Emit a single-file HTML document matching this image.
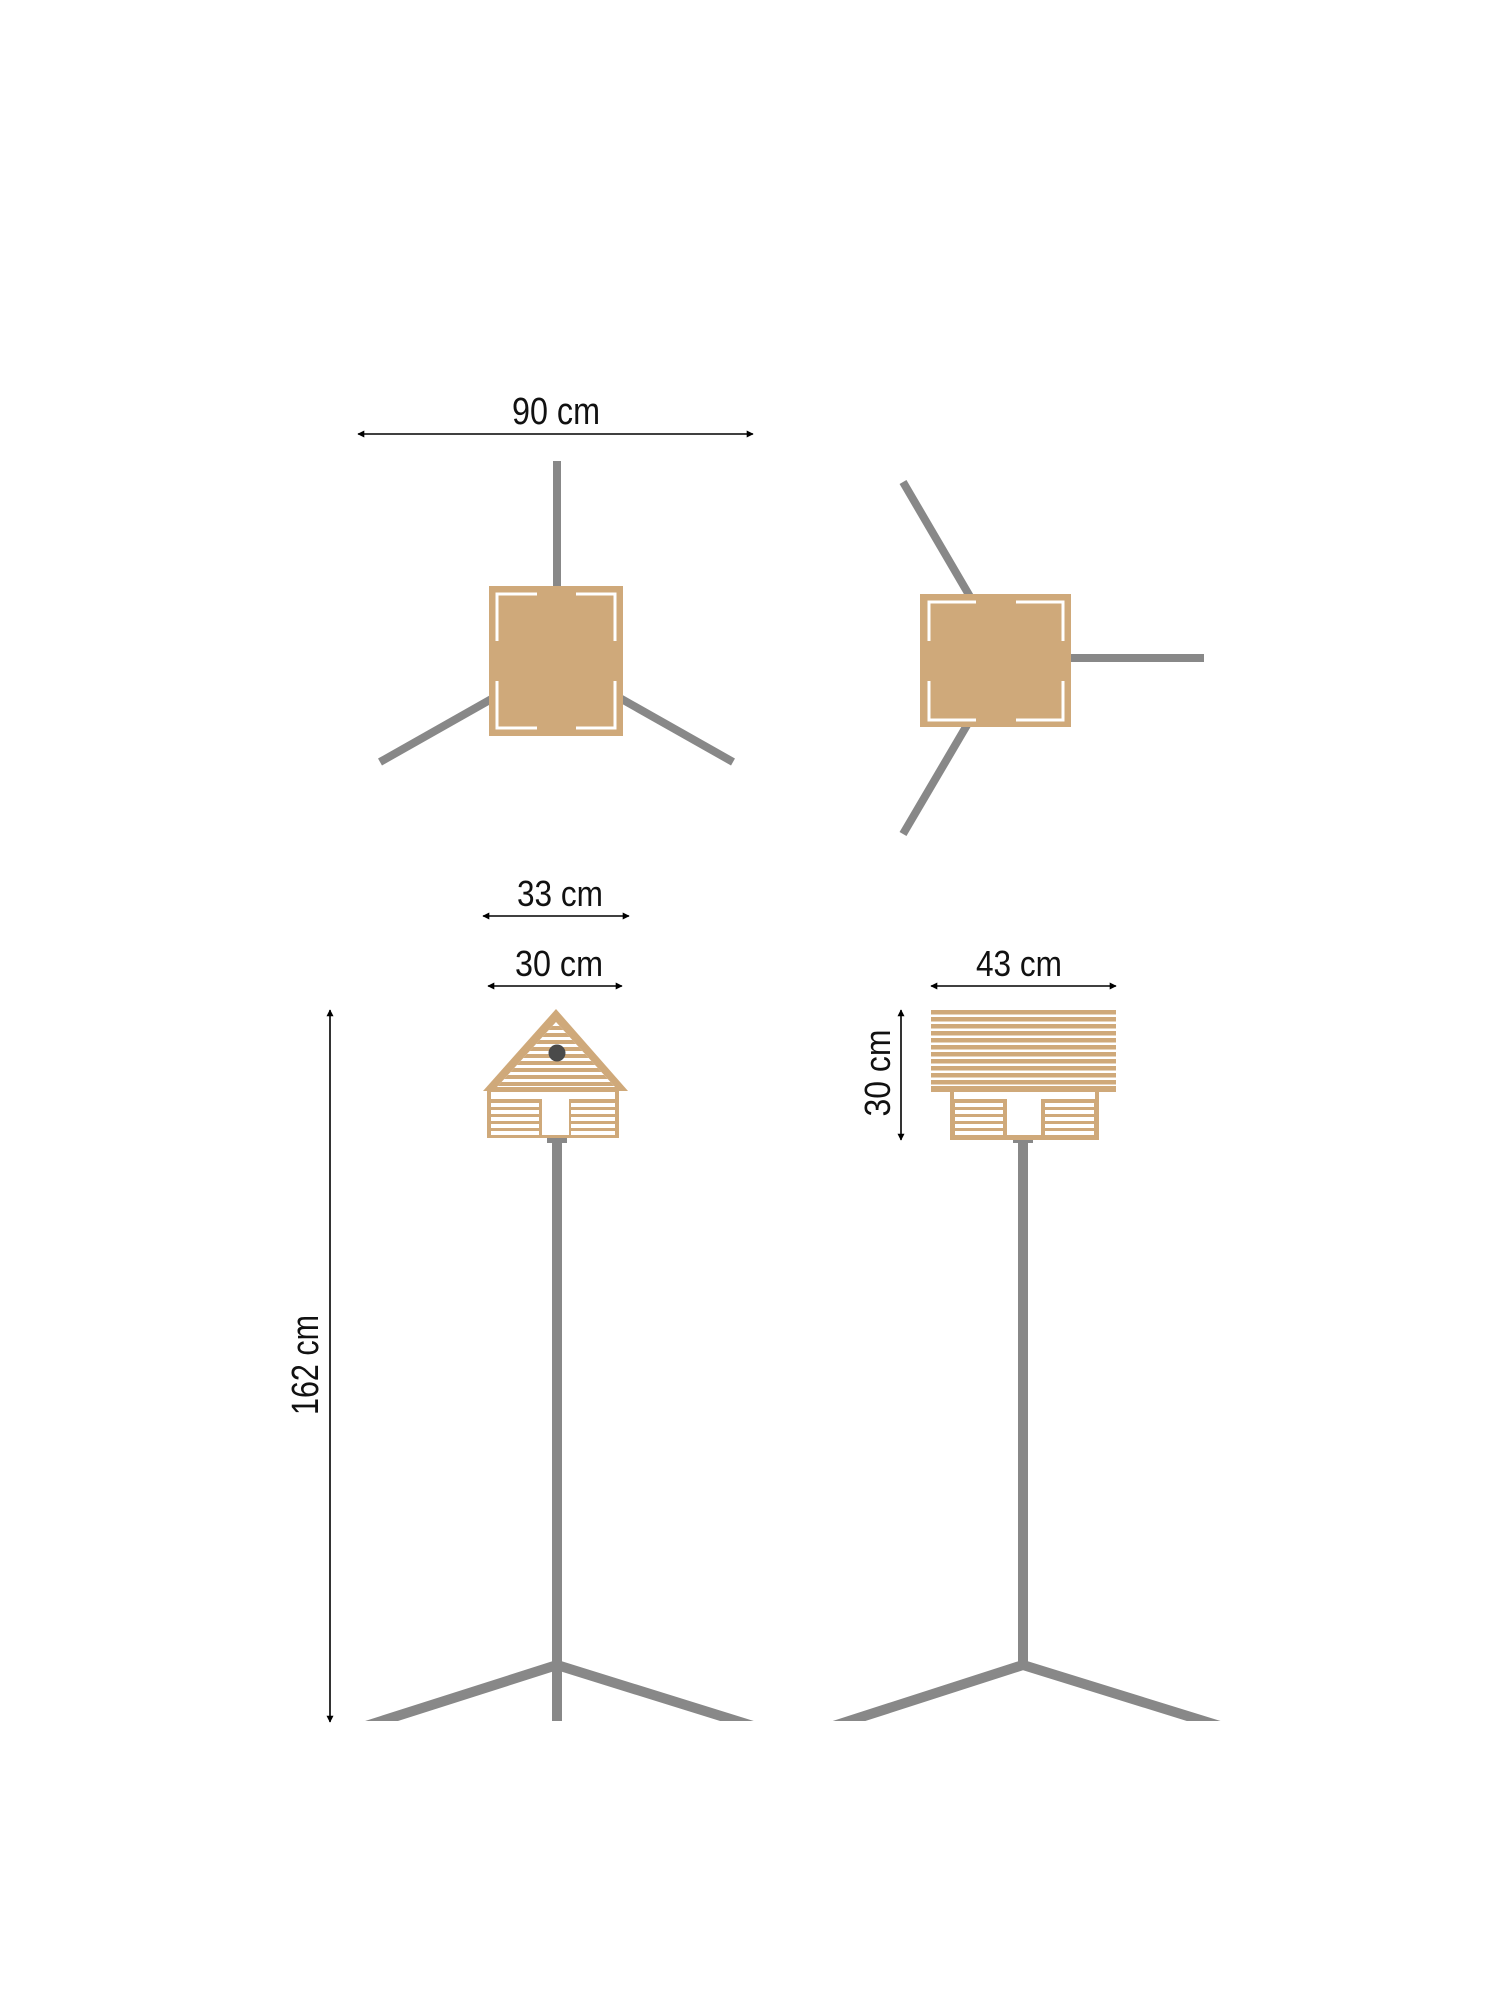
<!DOCTYPE html>
<html><head><meta charset="utf-8"><style>
html,body{margin:0;padding:0;background:#fff;}
svg{display:block}
text{font-family:"Liberation Sans Narrow","Liberation Sans",sans-serif;fill:#111;font-weight:500;}
</style></head><body>
<svg width="1500" height="2000" viewBox="0 0 1500 2000" xmlns="http://www.w3.org/2000/svg">
<defs>
<marker id="ah" viewBox="0 0 10 10" refX="9" refY="5" markerWidth="7" markerHeight="7" orient="auto-start-reverse" markerUnits="userSpaceOnUse">
<path d="M0,0 L10,5 L0,10 Z" fill="#000"/></marker>
<clipPath id="cl"><rect x="0" y="0" width="1500" height="1721"/></clipPath>
<clipPath id="tri"><polygon points="556,1022 497,1087 615,1087"/></clipPath>
</defs>

<!-- 90 cm -->
<line x1="358" y1="434" x2="753" y2="434" stroke="#000" stroke-width="1.6" marker-start="url(#ah)" marker-end="url(#ah)"/>
<text x="556" y="424" font-size="38" text-anchor="middle" textLength="88" lengthAdjust="spacingAndGlyphs">90 cm</text>

<!-- top view 1 -->
<g stroke="#888" stroke-width="8">
<line x1="557" y1="461" x2="557" y2="590"/>
<line x1="380" y1="762" x2="495" y2="697"/>
<line x1="733" y1="762" x2="618" y2="697"/>
</g>
<rect x="489" y="586" width="134" height="150" fill="#cfa97a"/>
<g stroke="#fff" stroke-width="3" fill="none">
<path d="M497,641 V594 H537"/><path d="M576,594 H615 V641"/>
<path d="M497,681 V728 H537"/><path d="M576,728 H615 V681"/>
</g>

<!-- top view 2 -->
<g stroke="#888" stroke-width="8">
<line x1="903" y1="482" x2="972" y2="600"/>
<line x1="903" y1="834" x2="970" y2="720"/>
<line x1="1065" y1="658" x2="1204" y2="658"/>
</g>
<rect x="920" y="594" width="151" height="133" fill="#cfa97a"/>
<g stroke="#fff" stroke-width="3" fill="none">
<path d="M929,641 V602 H976"/><path d="M1016,602 H1063 V641"/>
<path d="M929,681 V720 H976"/><path d="M1016,720 H1063 V681"/>
</g>

<!-- 33 / 30 cm -->
<line x1="483" y1="916" x2="629" y2="916" stroke="#000" stroke-width="1.6" marker-start="url(#ah)" marker-end="url(#ah)"/>
<text x="560" y="906" font-size="36" text-anchor="middle" textLength="86" lengthAdjust="spacingAndGlyphs">33 cm</text>
<line x1="488" y1="986" x2="622" y2="986" stroke="#000" stroke-width="1.6" marker-start="url(#ah)" marker-end="url(#ah)"/>
<text x="559" y="976" font-size="36" text-anchor="middle" textLength="88" lengthAdjust="spacingAndGlyphs">30 cm</text>

<!-- 162 cm -->
<line x1="330" y1="1010" x2="330" y2="1722" stroke="#000" stroke-width="1.6" marker-start="url(#ah)" marker-end="url(#ah)"/>
<text transform="translate(318,1365) rotate(-90)" font-size="38" text-anchor="middle" textLength="100" lengthAdjust="spacingAndGlyphs">162 cm</text>

<!-- front house -->
<g clip-path="url(#cl)" stroke="#888" stroke-width="10" fill="none">
<line x1="557" y1="1140" x2="557" y2="1730"/>
<polyline points="322,1740 557,1665 798,1740"/>
</g>
<rect x="547" y="1138" width="20" height="5" fill="#888"/>
<polygon points="556,1009 483,1091 628,1091" fill="#cfa97a"/>
<polygon points="556,1022 497,1087 615,1087" fill="#fff"/>
<g clip-path="url(#tri)" fill="#cfa97a">
<rect x="480" y="1026" width="160" height="4"/><rect x="480" y="1033" width="160" height="4"/>
<rect x="480" y="1040" width="160" height="4"/><rect x="480" y="1047" width="160" height="4"/>
<rect x="480" y="1054" width="160" height="4"/><rect x="480" y="1061" width="160" height="4"/>
<rect x="480" y="1068" width="160" height="4"/><rect x="480" y="1075" width="160" height="4"/>
<rect x="480" y="1082" width="160" height="4"/>
</g>
<circle cx="557" cy="1053" r="8.5" fill="#4a4a4a"/>
<rect x="487" y="1090" width="132" height="48" fill="#cfa97a"/>
<rect x="491" y="1092" width="124" height="7" fill="#fff"/>
<g fill="#fff">
<rect x="491" y="1103" width="48" height="4"/><rect x="491" y="1110" width="48" height="4"/>
<rect x="491" y="1117" width="48" height="4"/><rect x="491" y="1124" width="48" height="4"/>
<rect x="491" y="1131" width="48" height="4"/>
<rect x="571" y="1103" width="44" height="4"/><rect x="571" y="1110" width="44" height="4"/>
<rect x="571" y="1117" width="44" height="4"/><rect x="571" y="1124" width="44" height="4"/>
<rect x="571" y="1131" width="44" height="4"/>
<rect x="542" y="1099" width="27" height="36"/>
</g>

<!-- 43 cm / 30 cm -->
<line x1="931" y1="986" x2="1116" y2="986" stroke="#000" stroke-width="1.6" marker-start="url(#ah)" marker-end="url(#ah)"/>
<text x="1019" y="976" font-size="36" text-anchor="middle" textLength="86" lengthAdjust="spacingAndGlyphs">43 cm</text>
<line x1="901" y1="1010" x2="901" y2="1140" stroke="#000" stroke-width="1.6" marker-start="url(#ah)" marker-end="url(#ah)"/>
<text transform="translate(890,1073) rotate(-90)" font-size="36" text-anchor="middle" textLength="87" lengthAdjust="spacingAndGlyphs">30 cm</text>

<!-- side house -->
<g clip-path="url(#cl)" stroke="#888" stroke-width="10" fill="none">
<line x1="1023" y1="1140" x2="1023" y2="1662"/>
<polyline points="790,1740 1023,1665 1265,1740"/>
</g>
<rect x="1013" y="1138" width="20" height="5" fill="#888"/>
<g fill="#cfa97a">
<rect x="931" y="1010" width="185" height="4.5"/><rect x="931" y="1017" width="185" height="4.5"/>
<rect x="931" y="1024" width="185" height="4.5"/><rect x="931" y="1031" width="185" height="4.5"/>
<rect x="931" y="1038" width="185" height="4.5"/><rect x="931" y="1045" width="185" height="4.5"/>
<rect x="931" y="1052" width="185" height="4.5"/><rect x="931" y="1059" width="185" height="4.5"/>
<rect x="931" y="1066" width="185" height="4.5"/><rect x="931" y="1073" width="185" height="4.5"/>
<rect x="931" y="1080" width="185" height="4.5"/><rect x="931" y="1086" width="185" height="6"/>
<rect x="950" y="1092" width="149" height="48"/>
</g>
<g fill="#fff">
<rect x="954" y="1092" width="141" height="7"/>
<rect x="955" y="1103" width="48" height="4"/><rect x="955" y="1110" width="48" height="4"/>
<rect x="955" y="1117" width="48" height="4"/><rect x="955" y="1124" width="48" height="4"/>
<rect x="955" y="1131" width="48" height="4"/>
<rect x="1045" y="1103" width="49" height="4"/><rect x="1045" y="1110" width="49" height="4"/>
<rect x="1045" y="1117" width="49" height="4"/><rect x="1045" y="1124" width="49" height="4"/>
<rect x="1045" y="1131" width="49" height="4"/>
<rect x="1007" y="1099" width="34" height="36"/>
</g>
</svg>
</body></html>
